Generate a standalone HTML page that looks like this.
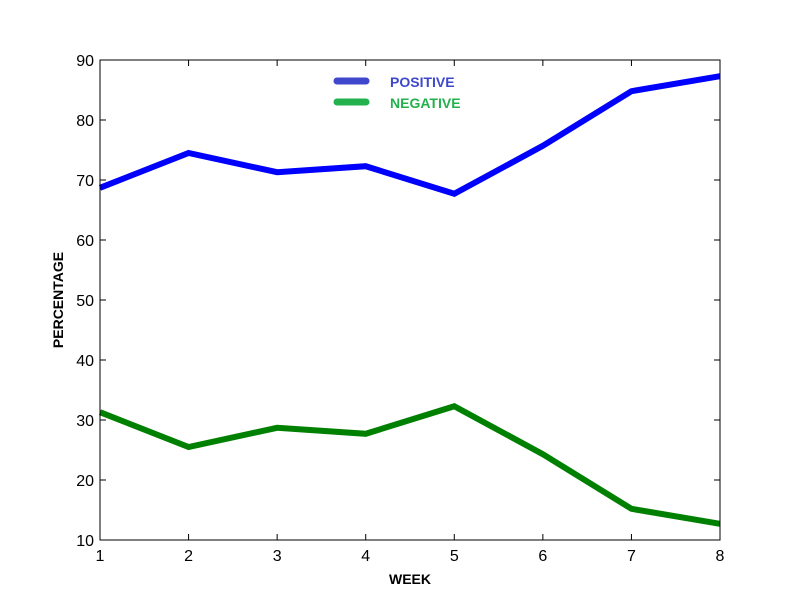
<!DOCTYPE html>
<html><head><meta charset="utf-8"><style>
body{margin:0;background:#fff;}
svg text{font-family:"Liberation Sans",sans-serif;}
</style></head><body>
<svg id="chart" width="800" height="600">
<rect x="0" y="0" width="800" height="600" fill="#fff"/>
<g id="grid"></g>
<g id="series"></g>
<rect x="100" y="60" width="620" height="480" fill="none" stroke="#000" stroke-width="1"/>
<text x="410" y="584" text-anchor="middle" font-size="14" font-weight="bold">WEEK</text>
<text transform="translate(63,300) rotate(-90)" text-anchor="middle" font-size="14" font-weight="bold">PERCENTAGE</text>
<g>
<line x1="337" y1="81" x2="366" y2="81" stroke="#3f48cc" stroke-width="7" stroke-linecap="round"/>
<text x="390" y="87" font-size="14" font-weight="bold" fill="#3f48cc">POSITIVE</text>
<line x1="337" y1="102" x2="366" y2="102" stroke="#22b14c" stroke-width="7" stroke-linecap="round"/>
<text x="390" y="108" font-size="14" font-weight="bold" fill="#22b14c">NEGATIVE</text>
</g>
</svg>
<script>
const weeks=[1,2,3,4,5,6,7,8];
const positive=[68.7,74.5,71.3,72.3,67.7,75.7,84.8,87.3];
const negative=[31.3,25.5,28.7,27.7,32.3,24.3,15.2,12.7];
const yTicks=[10,20,30,40,50,60,70,80,90];
const NS="http://www.w3.org/2000/svg";
const xs=v=>100+(v-1)/7*620;
const ys=v=>540-(v-10)/80*480;
const grid=document.getElementById('grid');
function mk(tag,attrs,parent){const e=document.createElementNS(NS,tag);for(const k in attrs)e.setAttribute(k,attrs[k]);parent.appendChild(e);return e;}
weeks.forEach(w=>{
  const x=xs(w);
  const t1=mk('line',{x1:x,y1:540,x2:x,y2:534,stroke:'#000'},grid);
  
  
  const t2=mk('line',{x1:x,y1:60,x2:x,y2:66,stroke:'#000'},grid);
  
  
  const l=mk('text',{x:x,y:561,'text-anchor':'middle','font-size':16},grid);
  l.textContent=w;
  
  
});
yTicks.forEach(v=>{
  const y=ys(v);
  const t1=mk('line',{x1:100,y1:y,x2:106,y2:y,stroke:'#000'},grid);
  
  
  const t2=mk('line',{x1:720,y1:y,x2:714,y2:y,stroke:'#000'},grid);
  
  
  const l=mk('text',{x:94,y:y+6,'text-anchor':'end','font-size':16},grid);
  l.textContent=v;
  
  
});
const ser=document.getElementById('series');
function line(vals,color,name){
  const d=vals.map((v,i)=>(i?'L':'M')+xs(weeks[i])+','+ys(v)).join(' ');
  const p=mk('path',{d:d,fill:'none',stroke:color,'stroke-width':6,'stroke-linejoin':'miter'},ser);
  
  
}
line(positive,'#0000ff','positive-line');
line(negative,'#008000','negative-line');
</script>
</body></html>
